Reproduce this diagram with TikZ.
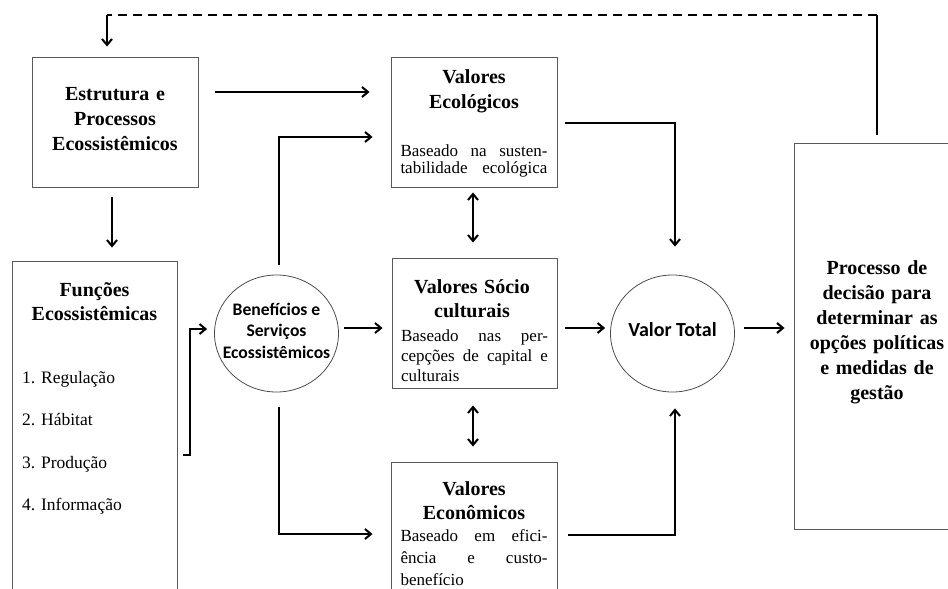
\documentclass[tikz,border=0pt]{standalone}
\usepackage{fontspec}
\setmainfont{Liberation Serif}
\newfontfamily\calib{Carlito}
\usetikzlibrary{arrows.meta,shapes.geometric,calc}
\newcommand{\jl}[1]{\noindent\hbox to 147pt{#1}\par}
\begin{document}
\begin{tikzpicture}[x=1pt,y=-1pt,
 box/.style={draw=black!65, line width=0.9pt, inner sep=0pt},
 circ/.style={draw=black!70, line width=0.8pt, ellipse, inner sep=0pt, minimum width=124pt, minimum height=117pt},
 ctext/.style={inner sep=0pt, align=center, font=\calib\bfseries\fontsize{17.6}{21.5}\selectfont},
 arr/.style={line width=2pt, -{Straight Barb[length=6pt,width=10pt]}},
 darr/.style={line width=2pt, {Straight Barb[length=6pt,width=10pt]}-{Straight Barb[length=6pt,width=10pt]}},
 ttl/.style={font=\fontsize{20}{25}\selectfont\bfseries, text width=160pt, align=center, inner sep=0pt, anchor=base},
 bdy/.style={text width=147pt, inner sep=0pt, anchor=base, font=\fontsize{17}{20}\selectfont},
 item/.style={anchor=base west, inner sep=0pt, font=\fontsize{17.5}{21}\selectfont},
]
\useasboundingbox (0,0) rectangle (948,589);
\clip (0,0) rectangle (948,589);

% boxes
\node[box, minimum width=166pt, minimum height=130pt] (est) at (115,122) {};
\node[box, minimum width=166pt, minimum height=130pt] (eco) at (474,122) {};
\node[box, minimum width=165pt, minimum height=130pt] (soc) at (474.5,323) {};
\node[box, minimum width=166pt, minimum height=150pt] (econ) at (474,537) {};
\node[box, minimum width=165pt, minimum height=350pt] (fun) at (94.5,436) {};
\node[box, minimum width=170pt, minimum height=386pt] (dec) at (879,336) {};
\node[circ] (ben) at (276.5,333.5) {};
\node[circ] (vt) at (672.5,333.5) {};
\node[ctext] (benT) at ($(ben.center)+(0,-3)$) {Benefícios e\\Serviços\\Ecossistêmicos};
\node[ctext, font=\calib\bfseries\fontsize{20}{24}\selectfont] (vtT) at ($(vt.center)+(0,-4)$) {Valor Total};

% texts
\node[ttl] (estT) at (115,100) {Estrutura e\\Processos\\Ecossistêmicos};
\node[ttl] (ecoT) at (474,83) {Valores\\Ecológicos};
\node[bdy, font=\fontsize{17}{17}\selectfont] (ecoB) at (474,156) {\jl{Baseado\hfill na\hfill susten-}\jl{tabilidade\hfill ecológica}};
\node[ttl, font=\fontsize{20}{24}\selectfont\bfseries] (socT) at (472,293) {Valores Sócio\\culturais};
\node[bdy] (socB) at (474.5,341.7) {\jl{Baseado\hfill nas\hfill per-}\jl{cepções\hfill de\hfill capital\hfill e}\noindent culturais\par};
\node[ttl, font=\fontsize{20}{24}\selectfont\bfseries] (econT) at (474,495) {Valores\\Econômicos};
\node[bdy, font=\fontsize{17}{21.7}\selectfont] (econB) at (474,541.7) {\jl{Baseado\hfill em\hfill efici-}\jl{ência\hfill e\hfill custo-}\noindent benefício\par};
\node[ttl, font=\fontsize{20}{24}\selectfont\bfseries] (funT) at (94.5,296) {Funções\\Ecossistêmicas};
\node[item] (f1) at (22,383) {1. Regulação};
\node[item] (f2) at (22,425.5) {2. Hábitat};
\node[item] (f3) at (22,468) {3. Produção};
\node[item] (f4) at (22,510.5) {4. Informação};
\node[ttl] (decT) at (877,274) {Processo de\\decisão para\\determinar as\\opções políticas\\e medidas de\\gestão};

% connectors
\draw[arr] ($(est.east)+(17,-30)$) -- ($(eco.west)+(-21,-30)$);
\draw[arr] ($(est.south)+(-3,10)$) -- ($(est.south |- fun.north)+(-3,-13)$);
\draw[arr] ($(ben.north)+(2,-10)$) |- ($(eco.west)+(-18,15)$);
\draw[arr] ($(ben.south)+(2,15)$) |- ($(econ.west)+(-18,-3)$);
\draw[arr] ($(fun.east)+(6,19)$) -- ++(7,0) |- ($(ben.west)+(-7,-4.5)$);
\draw[arr] ($(ben.east)+(5,-5.5)$) -- ($(soc.west)+(-9,5)$);
\draw[arr] ($(soc.east)+(8,5)$) -- ($(vt.west)+(-5,-5.5)$);
\draw[arr] ($(vt.east)+(9,-5.5)$) -- ($(dec.west)+(-9,-8)$);
\draw[arr] ($(eco.east)+(8,1)$) -| ($(vt.north)+(2.5,-28)$);
\draw[arr] ($(econ.east)+(11,-2)$) -| ($(vt.south)+(2.5,16)$);
\draw[darr] ($(eco.south)+(-1,5)$) -- ($(soc.north)+(-1.5,-15)$);
\draw[darr] ($(soc.south)+(-1.5,17)$) -- ($(econ.north)+(-1,-15)$);

% feedback
\coordinate (fbR) at ($(dec.north)+(-2,-128)$);
\coordinate (fbL) at ($(est.north)+(-8,-42)$);
\draw[line width=2pt] ($(dec.north)+(-2,-8)$) -- (fbR);
\draw[line width=2pt, dash pattern=on 9pt off 6pt] (fbR) -- (fbL);
\draw[arr] (fbL) -- ($(est.north)+(-8,-10)$);
\end{tikzpicture}
\end{document}
